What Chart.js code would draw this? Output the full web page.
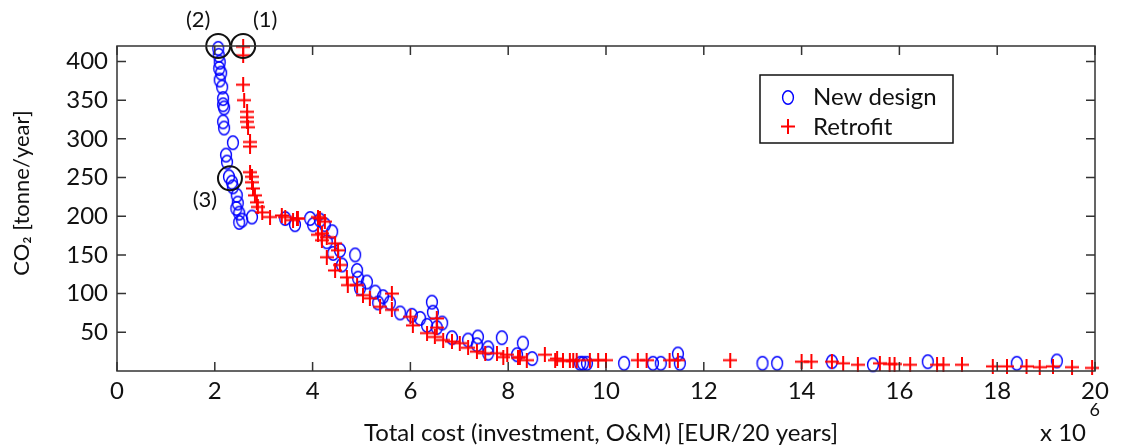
<!DOCTYPE html>
<html>
<head>
<meta charset="utf-8">
<script src="https://cdn.jsdelivr.net/npm/chart.js@4.4.1/dist/chart.umd.min.js"></script>
<style>
  html, body { margin: 0; padding: 0; background: #fff; }
  #wrap { width: 1122px; height: 447px; position: relative; }
</style>
</head>
<body>
<div id="wrap"><canvas id="chart"></canvas></div>
<script>
// --- DATA (cost in millions EUR / 20 years, CO2 in tonne/year) ---
const newDesignX = [2.07, 2.08, 2.1, 2.09, 2.13, 2.1, 2.15, 2.17, 2.17, 2.19, 2.17, 2.19, 2.37, 2.23, 2.25,
  2.29, 2.35, 2.37, 2.45, 2.47, 2.5, 2.56, 2.76, 2.5, 2.44,
  3.44, 3.64, 3.95, 4.01, 4.15, 4.25, 4.4, 4.29, 4.42, 4.56, 4.87, 4.6, 4.91, 4.93, 5.11, 4.97, 5.28,
  5.44, 5.58, 5.34, 5.79, 6.03, 6.2, 6.44, 6.46, 6.34, 6.54, 6.65, 6.85, 7.18, 7.38, 7.36, 7.59, 7.59,
  7.87, 8.3, 8.18, 8.49, 9.47, 9.53, 9.61, 10.37, 10.96, 11.12, 11.47, 11.51, 13.2, 13.5,
  14.62, 15.46, 16.58, 18.4, 19.22];
const newDesignY = [417, 408, 399, 391, 385, 376, 367, 352, 344, 340, 322, 314, 295, 279, 270,
  251, 244, 238, 227, 217, 204, 195, 199, 192, 210,
  197, 189, 197, 189, 195, 189, 180, 167, 152, 156, 150, 137, 130, 120, 115, 107, 102,
  96, 88, 88, 75, 72, 68, 89, 76, 59, 56, 62, 43, 40, 44, 34, 30, 23,
  43, 36, 21, 16, 10, 10, 10, 10, 10, 10, 22, 10, 10, 10,
  12, 8, 12, 10, 13];

const retrofitX = [2.58, 2.58, 2.58, 2.6, 2.66, 2.66, 2.66, 2.68, 2.72, 2.72, 2.72, 2.76, 2.76, 2.78,
  2.82, 2.86, 2.88, 2.97, 3.13, 3.37, 3.6, 3.7, 4.11, 4.25, 4.19, 4.29,
  3.44, 3.68, 4.15, 4.11, 4.19, 4.46, 4.52, 4.29, 4.56, 4.46, 4.7, 4.72, 4.91, 5.03, 5.62, 5.17,
  5.38, 5.62, 6.0, 6.05, 6.54, 6.54, 6.34, 6.5, 6.67, 6.85, 7.01, 7.18, 7.36, 7.53, 7.77, 7.98,
  8.24, 8.75, 8.96, 9.12, 9.26, 9.33, 7.9, 8.2, 8.38, 9.0, 9.4, 9.67, 9.84, 10.0, 10.65, 10.83,
  11.3, 11.47, 12.54, 14.0, 14.2, 14.62, 14.85, 15.15, 15.6, 15.8, 15.9, 16.22, 16.77, 16.9,
  17.28, 17.91, 18.2, 18.6, 18.87, 19.14, 19.53, 19.94];
const retrofitY = [419, 408, 370, 350, 335, 328, 322, 315, 296, 290, 257, 251, 244, 236,
  227, 218, 212, 205, 199, 201, 195, 197, 199, 193, 178, 173,
  199, 197, 197, 176, 169, 165, 156, 147, 137, 130, 121, 111, 111, 98, 100, 94,
  83, 79, 70, 59, 68, 56, 49, 44, 40, 38, 36, 30, 25, 23, 23, 21,
  18, 21, 14, 13, 14, 13, 18, 17, 14, 16, 14, 14, 14, 14, 14, 14,
  14, 14, 14, 12, 12, 12, 10, 8, 10, 9, 9, 8, 8, 8,
  8, 6, 6, 6, 5, 6, 5, 4];

// highlighted solutions (1), (2), (3)
const markX = [2.58, 2.07, 2.31];
const markY = [420, 420, 249];
const markLabels = ['(1)', '(2)', '(3)'];

const xTicks = [0, 2, 4, 6, 8, 10, 12, 14, 16, 18, 20];
const yTicks = [50, 100, 150, 200, 250, 300, 350, 400];

const FONT = 'Lato, "Open Sans", sans-serif';

// --- MARKERS ---
function ellipseMarker(color) {
    const c = document.createElement('canvas');
    c.width = 14; c.height = 17;
    const g = c.getContext('2d');
    g.strokeStyle = color; g.lineWidth = 1.4;
    g.beginPath(); g.ellipse(7, 8.5, 5.4, 6.8, 0, 0, Math.PI * 2); g.stroke();
    return c;
}
function plusMarker(color) {
    const c = document.createElement('canvas');
    c.width = 14; c.height = 15;
    const g = c.getContext('2d');
    g.strokeStyle = color; g.lineWidth = 2;
    g.beginPath();
    g.moveTo(0, 7.5); g.lineTo(14, 7.5);
    g.moveTo(7, 0); g.lineTo(7, 15);
    g.stroke();
    return c;
}
const circleImg = ellipseMarker('#0000ff');
const plusImg = plusMarker('#ff0000');

const toPts = (xs, ys) => xs.map((x, i) => ({ x, y: ys[i] }));

// --- FRAME, INWARD TICKS, LABELS, LEGEND ---
const decorPlugin = {
    id: 'decor',
    afterDatasetsDraw(chart) {
        const { ctx, chartArea: a, scales: { x, y } } = chart;
        ctx.save();
        ctx.strokeStyle = '#333';
        ctx.lineWidth = 1.5;
        ctx.strokeRect(a.left, a.top, a.right - a.left, a.bottom - a.top);
        ctx.beginPath();
        xTicks.forEach(v => {
            const px = x.getPixelForValue(v);
            ctx.moveTo(px, a.bottom); ctx.lineTo(px, a.bottom - 9);
            ctx.moveTo(px, a.top); ctx.lineTo(px, a.top + 9);
        });
        yTicks.forEach(v => {
            const py = y.getPixelForValue(v);
            ctx.moveTo(a.left, py); ctx.lineTo(a.left + 9, py);
            ctx.moveTo(a.right, py); ctx.lineTo(a.right - 9, py);
        });
        ctx.stroke();

        // annotation labels
        ctx.fillStyle = '#111';
        ctx.font = '22px ' + FONT;
        ctx.textAlign = 'center';
        ctx.textBaseline = 'middle';
        const offs = [[22, -26], [-20, -26], [-25, 22]];
        markX.forEach((mx, i) => {
            ctx.fillText(markLabels[i], x.getPixelForValue(mx) + offs[i][0], y.getPixelForValue(markY[i]) + offs[i][1]);
        });

        // axis titles
        ctx.font = '24px ' + FONT;
        ctx.fillText('Total cost (investment, O&M) [EUR/20 years]', 601, 433);
        ctx.textAlign = 'right';
        ctx.fillText('x 10', 1086, 433);
        ctx.font = '18px ' + FONT;
        ctx.fillText('6', 1100, 410);

        ctx.save();
        ctx.translate(22, 193);
        ctx.rotate(-Math.PI / 2);
        ctx.textAlign = 'center';
        ctx.font = '22px ' + FONT;
        ctx.fillText('CO\u2082 [tonne/year]', 0, 0);
        ctx.restore();

        // legend
        ctx.lineWidth = 1.5;
        ctx.strokeStyle = '#111';
        ctx.fillStyle = '#fff';
        ctx.fillRect(760, 75, 193, 68);
        ctx.strokeRect(760, 75, 193, 68);
        ctx.drawImage(circleImg, 781, 89);
        ctx.drawImage(plusImg, 781, 119);
        ctx.fillStyle = '#111';
        ctx.textAlign = 'left';
        ctx.font = '24px ' + FONT;
        ctx.fillText('New design', 813, 97);
        ctx.fillText('Retrofit', 813, 127);
        ctx.restore();
    }
};

new Chart(document.getElementById('chart'), {
    type: 'scatter',
    data: {
        datasets: [
            {
                label: 'Marked',
                data: toPts(markX, markY),
                pointStyle: 'circle',
                pointRadius: 12,
                pointBorderWidth: 2,
                pointBorderColor: '#111',
                pointBackgroundColor: 'rgba(0,0,0,0)',
                clip: false
            },
            {
                label: 'Retrofit',
                data: toPts(retrofitX, retrofitY),
                pointStyle: plusImg,
                clip: false
            },
            {
                label: 'New design',
                data: toPts(newDesignX, newDesignY),
                pointStyle: circleImg,
                clip: false
            }
        ]
    },
    options: {
        responsive: true,
        maintainAspectRatio: false,
        animation: false,
        devicePixelRatio: 1,
        layout: { padding: { left: 0, top: 46, right: 27, bottom: 0 } },
        plugins: { legend: { display: false }, tooltip: { enabled: false } },
        scales: {
            x: {
                type: 'linear', min: 0, max: 20,
                grid: { display: false, drawTicks: false },
                border: { display: false },
                afterBuildTicks: s => { s.ticks = xTicks.map(v => ({ value: v })); },
                afterFit: s => { s.height = 76; },
                ticks: { color: '#111', padding: 6, maxRotation: 0, font: { family: FONT, size: 24 } }
            },
            y: {
                type: 'linear', min: 0, max: 420,
                grid: { display: false, drawTicks: false },
                border: { display: false },
                afterBuildTicks: s => { s.ticks = yTicks.map(v => ({ value: v })); },
                afterFit: s => { s.width = 117; },
                ticks: { color: '#111', padding: 9, font: { family: FONT, size: 24 } }
            }
        }
    },
    plugins: [decorPlugin]
});
</script>
</body>
</html>
